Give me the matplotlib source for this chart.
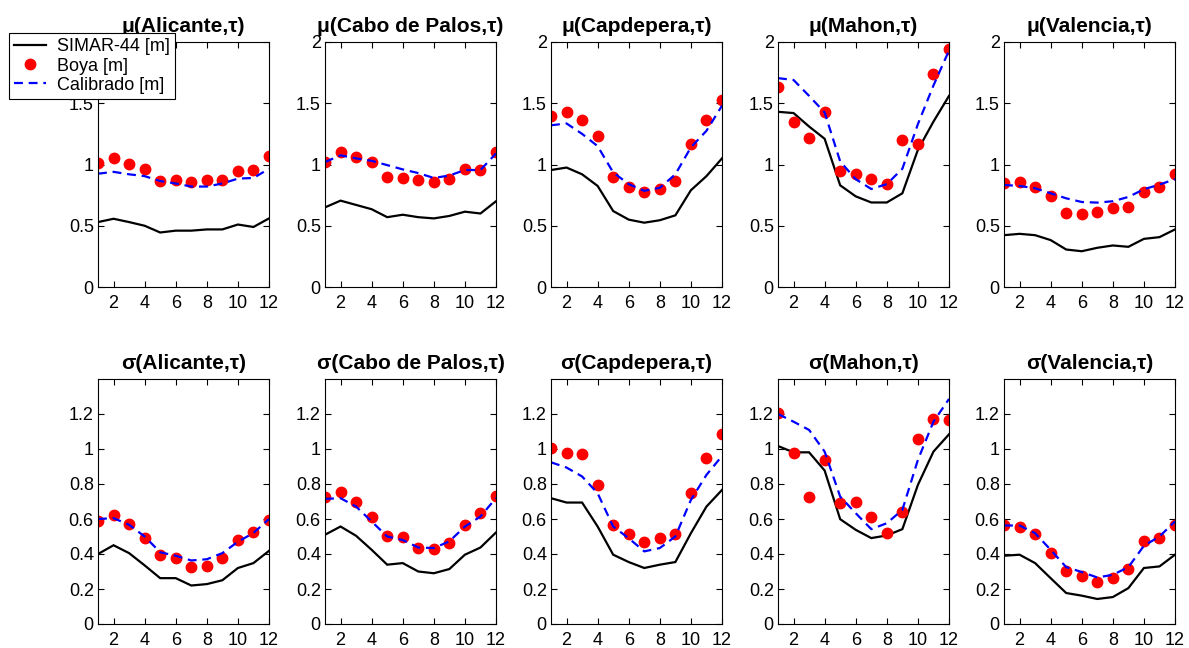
import matplotlib
matplotlib.use("Agg")
import matplotlib.pyplot as plt

plt.rcParams['font.family'] = ['Liberation Sans', 'DejaVu Sans']

months = list(range(1, 13))
stations = ["Alicante", "Cabo de Palos", "Capdepera", "Mahon", "Valencia"]

# ---- mean (mu) ----
mu_simar = {
    "Alicante":      [0.53, 0.557, 0.53, 0.50, 0.445, 0.46, 0.46, 0.47, 0.47, 0.51, 0.49, 0.56],
    "Cabo de Palos": [0.65, 0.705, 0.67, 0.635, 0.57, 0.59, 0.57, 0.56, 0.58, 0.615, 0.60, 0.70],
    "Capdepera":     [0.955, 0.975, 0.92, 0.825, 0.62, 0.55, 0.525, 0.545, 0.585, 0.79, 0.905, 1.05],
    "Mahon":         [1.43, 1.42, 1.31, 1.21, 0.83, 0.74, 0.69, 0.69, 0.765, 1.12, 1.35, 1.56],
    "Valencia":      [0.423, 0.434, 0.423, 0.383, 0.306, 0.292, 0.32, 0.339, 0.328, 0.393, 0.407, 0.47],
}
mu_boya = {
    "Alicante":      [1.01, 1.05, 1.005, 0.96, 0.865, 0.87, 0.855, 0.87, 0.875, 0.95, 0.955, 1.07],
    "Cabo de Palos": [1.02, 1.10, 1.06, 1.02, 0.90, 0.89, 0.87, 0.855, 0.88, 0.96, 0.955, 1.105],
    "Capdepera":     [1.40, 1.43, 1.36, 1.235, 0.90, 0.82, 0.775, 0.80, 0.865, 1.165, 1.36, 1.53],
    "Mahon":         [1.63, 1.35, 1.22, 1.43, 0.945, 0.925, 0.88, 0.84, 1.20, 1.17, 1.74, 1.94],
    "Valencia":      [0.847, 0.858, 0.82, 0.743, 0.607, 0.593, 0.615, 0.648, 0.656, 0.776, 0.82, 0.92],
}
mu_calib = {
    "Alicante":      [0.925, 0.94, 0.92, 0.905, 0.865, 0.845, 0.82, 0.82, 0.845, 0.885, 0.89, 0.965],
    "Cabo de Palos": [1.02, 1.075, 1.05, 1.03, 0.995, 0.96, 0.93, 0.89, 0.91, 0.955, 0.955, 1.09],
    "Capdepera":     [1.32, 1.335, 1.25, 1.15, 0.935, 0.84, 0.785, 0.81, 0.92, 1.14, 1.275, 1.48],
    "Mahon":         [1.705, 1.69, 1.56, 1.425, 1.025, 0.88, 0.80, 0.84, 0.965, 1.33, 1.645, 1.93],
    "Valencia":      [0.833, 0.825, 0.806, 0.765, 0.724, 0.694, 0.689, 0.70, 0.735, 0.798, 0.836, 0.88],
}

# ---- standard deviation (sigma) ----
sd_simar = {
    "Alicante":      [0.40, 0.45, 0.405, 0.335, 0.262, 0.262, 0.22, 0.228, 0.25, 0.32, 0.348, 0.418],
    "Cabo de Palos": [0.51, 0.557, 0.504, 0.424, 0.339, 0.348, 0.30, 0.29, 0.314, 0.396, 0.437, 0.523],
    "Capdepera":     [0.719, 0.694, 0.694, 0.557, 0.396, 0.354, 0.32, 0.339, 0.354, 0.519, 0.671, 0.766],
    "Mahon":         [1.017, 0.981, 0.981, 0.877, 0.599, 0.538, 0.491, 0.506, 0.542, 0.795, 0.985, 1.084],
    "Valencia":      [0.39, 0.396, 0.348, 0.262, 0.177, 0.162, 0.143, 0.154, 0.205, 0.32, 0.329, 0.396],
}
sd_boya = {
    "Alicante":      [0.586, 0.624, 0.572, 0.49, 0.396, 0.377, 0.325, 0.333, 0.375, 0.48, 0.525, 0.595],
    "Cabo de Palos": [0.728, 0.757, 0.70, 0.614, 0.504, 0.496, 0.434, 0.428, 0.462, 0.567, 0.633, 0.732],
    "Capdepera":     [1.008, 0.976, 0.97, 0.795, 0.567, 0.514, 0.466, 0.494, 0.514, 0.747, 0.95, 1.084],
    "Mahon":         [1.204, 0.976, 0.723, 0.938, 0.694, 0.696, 0.61, 0.519, 0.639, 1.056, 1.17, 1.166],
    "Valencia":      [0.563, 0.557, 0.514, 0.405, 0.304, 0.272, 0.24, 0.262, 0.314, 0.472, 0.494, 0.567],
}
sd_calib = {
    "Alicante":      [0.60, 0.605, 0.567, 0.50, 0.41, 0.39, 0.363, 0.37, 0.405, 0.47, 0.52, 0.60],
    "Cabo de Palos": [0.715, 0.719, 0.671, 0.586, 0.50, 0.48, 0.437, 0.434, 0.472, 0.557, 0.614, 0.72],
    "Capdepera":     [0.924, 0.894, 0.843, 0.747, 0.557, 0.49, 0.415, 0.434, 0.50, 0.709, 0.852, 0.96],
    "Mahon":         [1.20, 1.156, 1.109, 0.985, 0.728, 0.633, 0.542, 0.576, 0.652, 0.938, 1.156, 1.286],
    "Valencia":      [0.563, 0.563, 0.519, 0.424, 0.325, 0.297, 0.266, 0.281, 0.325, 0.447, 0.50, 0.586],
}

xticks = [2, 4, 6, 8, 10, 12]
mu_yticks = [0, 0.5, 1, 1.5, 2]
mu_ylabels = ["0", "0.5", "1", "1.5", "2"]
sd_yticks = [0, 0.2, 0.4, 0.6, 0.8, 1, 1.2]
sd_ylabels = ["0", "0.2", "0.4", "0.6", "0.8", "1", "1.2"]

legend_labels = ["SIMAR-44 [m]", "Boya [m]", "Calibrado [m]"]

W, H = 1189, 648
fig = plt.figure(figsize=(W / 100, H / 100), dpi=100)

lefts_px = [98, 325, 551, 778, 1004]
width_px = 171
rows = [(42, 287), (379, 624)]


def draw(ax, simar, boya, calib, title, ylim, yticks, ylabels):
    l1, = ax.plot(months, simar, color="black", lw=1.6, solid_joinstyle="miter")
    l2, = ax.plot(months, boya, linestyle="none", marker="o", color="red",
                  markersize=7.5, markeredgecolor="red")
    l3, = ax.plot(months, calib, color="blue", lw=1.6, dashes=(4, 2.6))
    ax.set_xlim(1, 12)
    ax.set_ylim(*ylim)
    ax.set_xticks(xticks)
    ax.set_xticklabels([str(v) for v in xticks])
    ax.set_yticks(yticks)
    ax.set_yticklabels(ylabels)
    ax.tick_params(direction="in", top=True, right=True, length=4, width=0.8,
                   labelsize=13, colors="black")
    ax.tick_params(axis="x", pad=5.5)
    ax.tick_params(axis="y", pad=3)
    for sp in ax.spines.values():
        sp.set_linewidth(0.8)
        sp.set_color("black")
    ax.set_title(title, fontsize=15, fontweight="bold", pad=7)
    return l1, l2, l3


handles = None
for r, (top, bot) in enumerate(rows):
    for i, st in enumerate(stations):
        rect = [lefts_px[i] / W, 1 - bot / H, width_px / W, (bot - top) / H]
        ax = fig.add_axes(rect)
        if r == 0:
            h = draw(ax, mu_simar[st], mu_boya[st], mu_calib[st],
                     "\u03bc(" + st + ",\u03c4)", (0, 2), mu_yticks, mu_ylabels)
            if handles is None:
                handles = h
                # top tick label is hidden under the legend in the reference
                ax.get_yticklabels()[-1].set_visible(False)
        else:
            draw(ax, sd_simar[st], sd_boya[st], sd_calib[st],
                 "\u03c3(" + st + ",\u03c4)", (0, 1.4), sd_yticks, sd_ylabels)

leg = fig.legend(handles, legend_labels, loc="upper left",
                 bbox_to_anchor=(9 / W, 1 - 33 / H), fontsize=13,
                 frameon=True, fancybox=False, framealpha=1, edgecolor="black",
                 numpoints=1, handlelength=1.75, handletextpad=0.6,
                 labelspacing=0.12, borderpad=0.3, borderaxespad=0)
leg.get_frame().set_linewidth(0.8)

fig.savefig("out.png", dpi=100)
